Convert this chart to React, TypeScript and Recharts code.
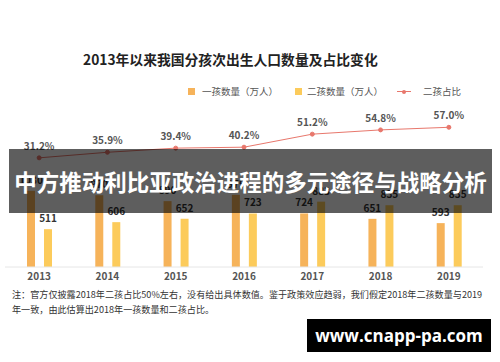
import { ComposedChart, Bar, Line, XAxis, YAxis, LabelList } from "recharts";

const years = ["2013", "2014", "2015", "2016", "2017", "2018", "2019"];
const firstChild = [1030, 970, 890, 975, 724, 651, 593];
const secondChild = [511, 606, 652, 723, 883, 835, 835];
const secondShare = [31.2, 35.9, 39.4, 40.2, 51.2, 54.8, 57.0];

const data = years.map((year, i) => ({
  year,
  first: firstChild[i],
  second: secondChild[i],
  share: secondShare[i],
}));

const FONT = '"Noto Sans CJK SC", "Noto Sans", sans-serif';
const FIRST_COLOR = "#f6b35a";
const SECOND_COLOR = "#fccb5b";
const LINE_COLOR = "#e8776c";

export default function App() {
  return (
    <div
      style={{
        position: "absolute",
        left: 0,
        top: 0,
        width: 500,
        height: 362,
        background: "#fff",
        fontFamily: FONT,
        overflow: "hidden",
      }}
    >
      <div
        style={{
          position: "absolute",
          left: 83,
          top: 49,
          fontSize: 13.8,
          fontWeight: 700,
          color: "#222",
          whiteSpace: "nowrap",
          lineHeight: "20px",
        }}
      >
        2013年以来我国分孩次出生人口数量及占比变化
      </div>

      {/* legend */}
      <div style={{ position: "absolute", left: 188, top: 88, width: 7, height: 7, background: FIRST_COLOR }} />
      <div style={{ position: "absolute", left: 202, top: 84, fontSize: 9.5, color: "#555", whiteSpace: "nowrap", lineHeight: "14px" }}>
        一孩数量（万人）
      </div>
      <div style={{ position: "absolute", left: 295, top: 88, width: 7, height: 7, background: SECOND_COLOR }} />
      <div style={{ position: "absolute", left: 307, top: 84, fontSize: 9.5, color: "#555", whiteSpace: "nowrap", lineHeight: "14px" }}>
        二孩数量（万人）
      </div>
      <div style={{ position: "absolute", left: 397, top: 91, width: 14, height: 1, background: LINE_COLOR }} />
      <div style={{ position: "absolute", left: 402, top: 89.5, width: 4, height: 4, borderRadius: 2, background: LINE_COLOR }} />
      <div style={{ position: "absolute", left: 423, top: 84, fontSize: 9.5, color: "#555", whiteSpace: "nowrap", lineHeight: "14px" }}>
        二孩占比
      </div>

      <div style={{ position: "absolute", left: 0, top: 0 }}>
        <ComposedChart
          width={500}
          height={362}
          data={data}
          margin={{ top: 119, right: 17, bottom: 75, left: 5 }}
          barSize={8}
          barGap={9}
        >
          <XAxis
            dataKey="year"
            height={20}
            tickLine={false}
            tickSize={4}
            axisLine={{ stroke: "#e6e6e6" }}
            tick={{ fontSize: 10, fontWeight: 700, fill: "#555", fontFamily: FONT }}
            interval={0}
          />
          <YAxis yAxisId="left" hide domain={[0, 2000]} />
          <YAxis yAxisId="right" orientation="right" hide domain={[-61, 64]} />
          <Bar yAxisId="left" dataKey="first" fill={FIRST_COLOR} isAnimationActive={false}>
            <LabelList
              dataKey="first"
              position="top"
              offset={7}
              style={{ fontSize: 10, fontWeight: 700, fill: "#333", fontFamily: FONT }}
            />
          </Bar>
          <Bar yAxisId="left" dataKey="second" fill={SECOND_COLOR} isAnimationActive={false}>
            <LabelList
              dataKey="second"
              position="top"
              offset={7}
              style={{ fontSize: 10, fontWeight: 700, fill: "#333", fontFamily: FONT }}
            />
          </Bar>
          <Line
            yAxisId="right"
            dataKey="share"
            stroke={LINE_COLOR}
            strokeWidth={1}
            dot={{ r: 2, fill: LINE_COLOR, stroke: LINE_COLOR }}
            isAnimationActive={false}
          >
            <LabelList
              dataKey="share"
              position="top"
              offset={8}
              formatter={(v: number) => `${v.toFixed(1)}%`}
              style={{ fontSize: 10, fontWeight: 600, fill: "#555", fontFamily: FONT }}
            />
          </Line>
        </ComposedChart>
      </div>

      {/* note */}
      <div
        style={{
          position: "absolute",
          left: 12,
          top: 287,
          fontSize: 9.1,
          color: "#333",
          lineHeight: "15px",
          whiteSpace: "nowrap",
        }}
      >
        <div>注：官方仅披露2018年二孩占比50%左右，没有给出具体数值。鉴于政策效应趋弱，我们假定2018年二孩数量与2019</div>
        <div>年一致，由此估算出2018年一孩数量和二孩占比。</div>
      </div>

      {/* overlay banner */}
      <div
        style={{
          position: "absolute",
          left: 9,
          top: 149,
          width: 483,
          height: 64,
          background: "rgba(0,0,0,0.63)",
          color: "#fff",
          fontSize: 22.5,
          fontWeight: 700,
          display: "flex",
          alignItems: "center",
          justifyContent: "center",
          whiteSpace: "nowrap",
        }}
      >
        中方推动利比亚政治进程的多元途径与战略分析
      </div>

      {/* watermark */}
      <div
        style={{
          position: "absolute",
          left: 307,
          top: 319,
          width: 184,
          height: 33,
          background: "#000",
          color: "#fff",
          fontFamily: '"Open Sans", sans-serif',
          fontSize: 17,
          fontWeight: 700,
          display: "flex",
          alignItems: "center",
          justifyContent: "center",
        }}
      >
        www.cnapp-pa.com
      </div>
    </div>
  );
}
